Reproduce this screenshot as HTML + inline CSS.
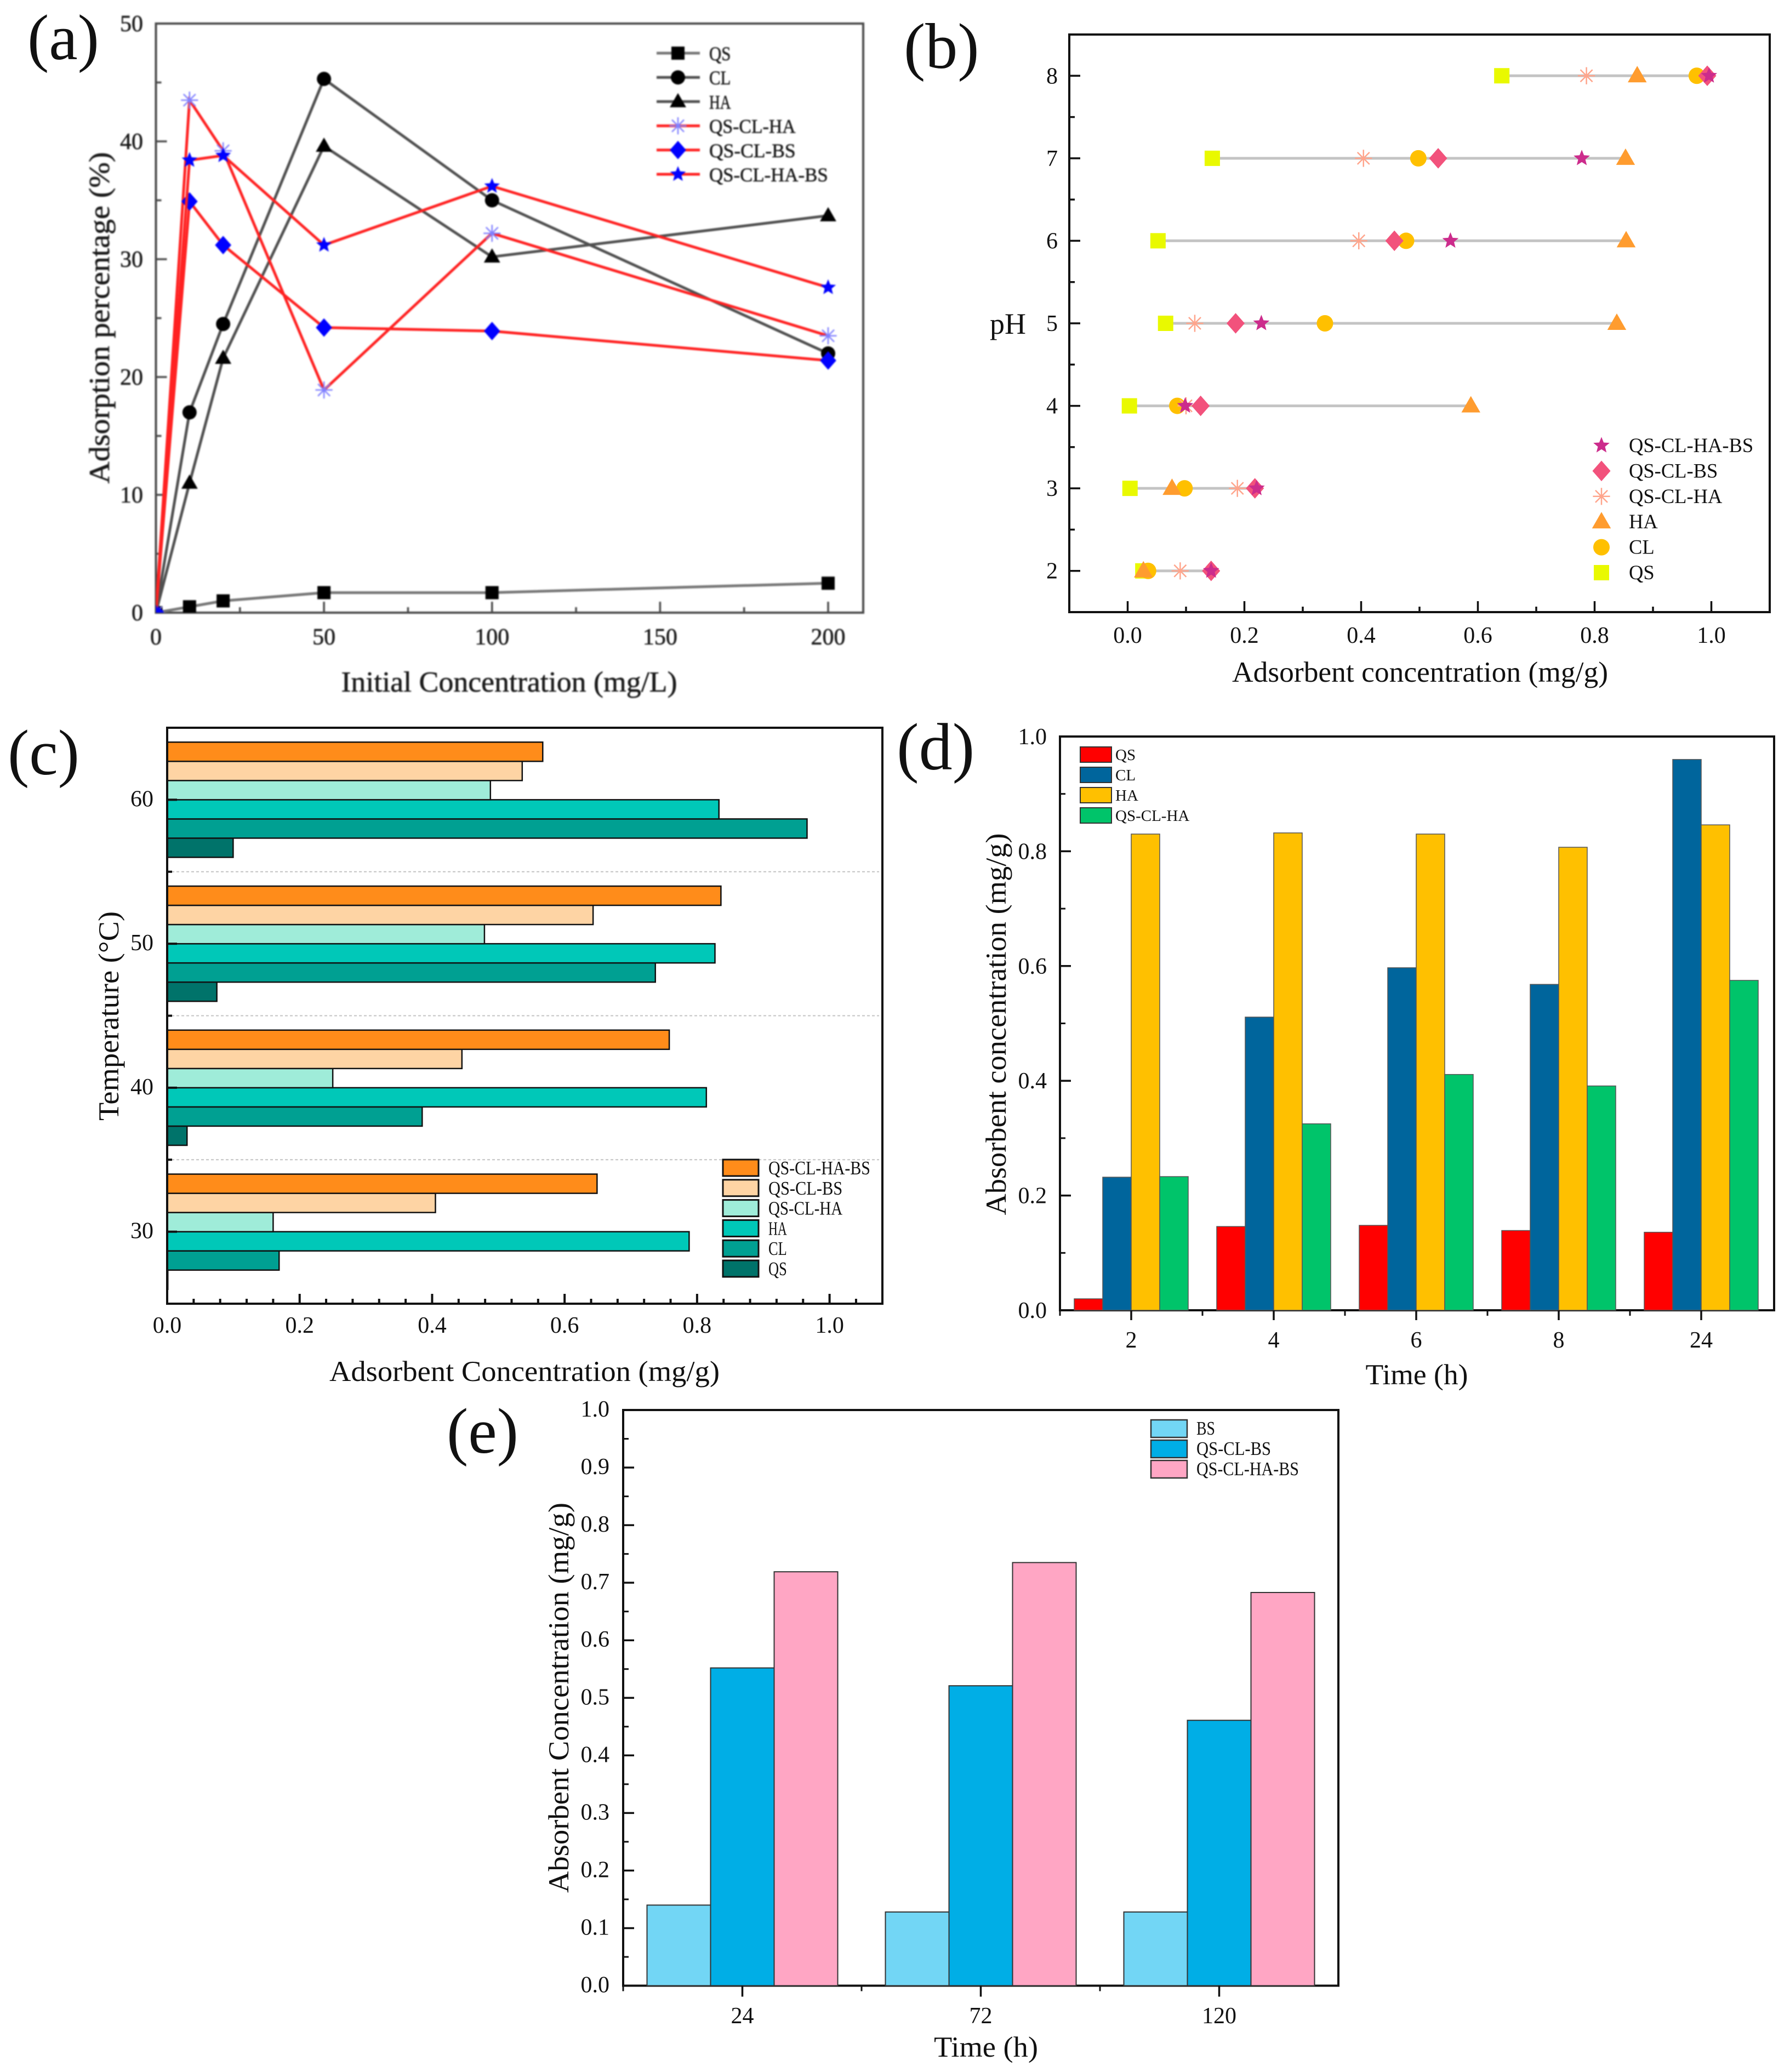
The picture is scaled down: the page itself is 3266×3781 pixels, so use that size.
<!DOCTYPE html>
<html lang="en">
<head>
<meta charset="utf-8">
<title>Adsorption charts</title>
<style>
html,body{margin:0;padding:0;background:#fff;}
svg{display:block;}
text{font-family:"Liberation Serif",serif;fill:#111;}
#panel-a-group{filter:blur(1.2px);}
#panel-a-group text{fill:#1a1a1a;stroke:#1a1a1a;stroke-width:0.6px;}
</style>
</head>
<body>
<svg id="root" xmlns="http://www.w3.org/2000/svg" width="3266" height="3781" viewBox="0 0 3266 3781">
  <defs>
    <clipPath id="a-plot-clip"><rect x="284.5" y="43" width="1290.5" height="1075"/></clipPath>
  </defs>
  <rect x="0" y="0" width="3266" height="3781" fill="#fff"/>

  <text x="50" y="108" font-size="118">(a)</text>
  <g id="panel-a-group">
    <text x="929" y="1262" font-size="53" text-anchor="middle" textLength="613" lengthAdjust="spacingAndGlyphs">Initial Concentration (mg/L)</text>
    <text transform="translate(199,580) rotate(-90)" font-size="53" text-anchor="middle" textLength="605" lengthAdjust="spacingAndGlyphs">Adsorption percentage (%)</text>
  </g>

  <g id="panel-b-group">
    <text x="1649" y="124" font-size="118">(b)</text>
    <text x="2591" y="1244" font-size="53" text-anchor="middle" textLength="686" lengthAdjust="spacingAndGlyphs">Adsorbent concentration (mg/g)</text>
    <text x="1806" y="609" font-size="54">pH</text>
  </g>

  <g id="panel-c-group">
    <text x="14" y="1413" font-size="118">(c)</text>
    <text x="957" y="2520" font-size="53" text-anchor="middle" textLength="712" lengthAdjust="spacingAndGlyphs">Adsorbent Concentration (mg/g)</text>
    <text transform="translate(216,1854) rotate(-90)" font-size="53" text-anchor="middle" textLength="382" lengthAdjust="spacingAndGlyphs">Temperature (°C)</text>
  </g>

  <g id="panel-d-group">
    <text x="1636" y="1404" font-size="122">(d)</text>
    <text x="2585" y="2526" font-size="53" text-anchor="middle" textLength="187" lengthAdjust="spacingAndGlyphs">Time (h)</text>
    <text transform="translate(1835,1869) rotate(-90)" font-size="53" text-anchor="middle" textLength="697" lengthAdjust="spacingAndGlyphs">Absorbent concentration (mg/g)</text>
  </g>

  <g id="panel-e-group">
    <text x="815" y="2651" font-size="118">(e)</text>
    <text x="1799" y="3753" font-size="53" text-anchor="middle" textLength="190" lengthAdjust="spacingAndGlyphs">Time (h)</text>
    <text transform="translate(1037,3098) rotate(-90)" font-size="53" text-anchor="middle" textLength="712" lengthAdjust="spacingAndGlyphs">Absorbent Concentration (mg/g)</text>
  </g>
</svg>

<script>
/* ---------- Panel (a) data ---------- */
const aConcentrations = [0, 10, 20, 50, 100, 200];
const aQS = [0, 0.5, 1.0, 1.7, 1.7, 2.5];
const aCL = [0, 17, 24.5, 45.3, 35, 22];
const aHA = [0, 11, 21.6, 39.6, 30.2, 33.7];
const aQSCLHA = [0, 43.5, 39.2, 18.9, 32.2, 23.5];
const aQSCLBS = [0, 34.9, 31.2, 24.2, 23.9, 21.4];
const aQSCLHABS = [0, 38.4, 38.8, 31.2, 36.2, 27.6];
const aXTicks = [0, 50, 100, 150, 200];
const aXMinor = [25, 75, 125, 175];
const aYTicks = [0, 10, 20, 30, 40, 50];
const aYMinor = [5, 15, 25, 35, 45];

/* ---------- Panel (b) data: index order follows bPH ---------- */
const bPH = [2, 3, 4, 5, 6, 7, 8];
const bQS = [0.026, 0.004, 0.003, 0.065, 0.052, 0.145, 0.641];
const bCL = [0.035, 0.0975, 0.085, 0.338, 0.477, 0.498, 0.975];
const bHA = [0.027, 0.076, 0.588, 0.838, 0.854, 0.853, 0.873];
const bQSCLHA = [0.09, 0.188, 0.1, 0.115, 0.396, 0.404, 0.786];
const bQSCLBS = [0.143, 0.218, 0.125, 0.185, 0.457, 0.532, 0.993];
const bQSCLHABS = [0.143, 0.221, 0.0985, 0.229, 0.553, 0.778, 0.996];
const bXTicks = [0, 0.2, 0.4, 0.6, 0.8, 1.0];
const bXMinor = [0.1, 0.3, 0.5, 0.7, 0.9];
const bYMinor = [2.5, 3.5, 4.5, 5.5, 6.5, 7.5];

/* ---------- Panel (c) data: index order follows cTemps ---------- */
const cTemps = [30, 40, 50, 60];
const cQS = [0.001, 0.030, 0.075, 0.0996];
const cCL = [0.169, 0.385, 0.737, 0.966];
const cHA = [0.788, 0.814, 0.827, 0.833];
const cQSCLHA = [0.160, 0.250, 0.479, 0.488];
const cQSCLBS = [0.405, 0.445, 0.643, 0.536];
const cQSCLHABS = [0.649, 0.758, 0.836, 0.567];
const cXTicks = [0, 0.2, 0.4, 0.6, 0.8, 1.0];
const cXMinor = [0.04, 0.08, 0.12, 0.16, 0.24, 0.28, 0.32, 0.36, 0.44, 0.48, 0.52, 0.56, 0.64, 0.68, 0.72, 0.76, 0.84, 0.88, 0.92, 0.96, 1.04];
const cYMinor = [35, 45, 55];

/* ---------- Panel (d) data ---------- */
const dTimes = ['2', '4', '6', '8', '24'];
const dQS = [0.02, 0.146, 0.148, 0.139, 0.136];
const dCL = [0.232, 0.511, 0.597, 0.568, 0.96];
const dHA = [0.83, 0.832, 0.83, 0.807, 0.846];
const dQSCLHA = [0.233, 0.325, 0.411, 0.391, 0.575];
const dYTicks = [0, 0.2, 0.4, 0.6, 0.8, 1.0];
const dYMinor = [0.1, 0.3, 0.5, 0.7, 0.9];

/* ---------- Panel (e) data ---------- */
const eTimes = ['24', '72', '120'];
const eBS = [0.14, 0.128, 0.128];
const eQSCLBS = [0.552, 0.521, 0.461];
const eQSCLHABS = [0.719, 0.735, 0.683];
const eYTicks = [0, 0.1, 0.2, 0.3, 0.4, 0.5, 0.6, 0.7, 0.8, 0.9, 1.0];
const eYMinor = [0.05, 0.15, 0.25, 0.35, 0.45, 0.55, 0.65, 0.75, 0.85, 0.95];

/* ---------- helpers ---------- */
const NS = 'http://www.w3.org/2000/svg';
function mk(parent, tag, attrs, text) {
  const e = document.createElementNS(NS, tag);
  for (const k in attrs) e.setAttribute(k, attrs[k]);
  if (text !== undefined) e.textContent = text;
  parent.appendChild(e);
  return e;
}
function linear(d0, d1, r0, r1) {
  return function (v) { return r0 + (v - d0) / (d1 - d0) * (r1 - r0); };
}
function tick(g, x1, y1, x2, y2, w, color) {
  const t = mk(g, 'line', {x1: x1, y1: y1, x2: x2, y2: y2, stroke: color, 'stroke-width': w});
  
  
}
function tickLabel(g, x, y, str, anchor) {
  const t = mk(g, 'text', {x: x, y: y, 'font-size': 42, 'text-anchor': anchor}, str);
  
  
}
function legendText(g, x, y, str, size, charW) {
  const t = mk(g, 'text', {x: x, y: y, 'font-size': size, textLength: str.length * charW, lengthAdjust: 'spacingAndGlyphs'}, str);
  
  
}
function frame(g, x, y, w, h, color, sw) {
  const r = mk(g, 'rect', {x: x, y: y, width: w, height: h, fill: 'none', stroke: color, 'stroke-width': sw});
  
  
}
function marker(g, kind, cx, cy, s, fill) {
  let d = '';
  let attrs = {fill: fill};
  if (kind === 'square') {
    d = 'M' + (cx - s) + ' ' + (cy - s) + 'h' + (2 * s) + 'v' + (2 * s) + 'h' + (-2 * s) + 'z';
  } else if (kind === 'circle') {
    d = 'M' + (cx - s) + ' ' + cy + 'a' + s + ' ' + s + ' 0 1 0 ' + (2 * s) + ' 0a' + s + ' ' + s + ' 0 1 0 ' + (-2 * s) + ' 0z';
  } else if (kind === 'triangle') {
    d = 'M' + cx + ' ' + (cy - s * 1.2) + 'L' + (cx + s * 1.15) + ' ' + (cy + s * 0.8) + 'L' + (cx - s * 1.15) + ' ' + (cy + s * 0.8) + 'z';
  } else if (kind === 'diamond') {
    d = 'M' + cx + ' ' + (cy - s * 1.25) + 'L' + (cx + s * 1.1) + ' ' + cy + 'L' + cx + ' ' + (cy + s * 1.25) + 'L' + (cx - s * 1.1) + ' ' + cy + 'z';
  } else if (kind === 'star') {
    for (let i = 0; i < 10; i++) {
      const r = i % 2 === 0 ? s * 1.25 : s * 0.55;
      const a = -Math.PI / 2 + i * Math.PI / 5;
      d += (i === 0 ? 'M' : 'L') + (cx + r * Math.cos(a)) + ' ' + (cy + r * Math.sin(a));
    }
    d += 'z';
  } else if (kind === 'asterisk') {
    for (let i = 0; i < 4; i++) {
      const a = i * Math.PI / 4;
      const dx = s * 1.2 * Math.cos(a), dy = s * 1.2 * Math.sin(a);
      d += 'M' + (cx - dx) + ' ' + (cy - dy) + 'L' + (cx + dx) + ' ' + (cy + dy);
    }
    attrs = {fill: 'none', stroke: fill, 'stroke-width': 2.5};
  }
  attrs.d = d;
  return mk(g, 'path', attrs);
}

/* ---------- Panel (a) ---------- */
(function () {
  const g = document.getElementById('panel-a-group');
  const L = 284.5, R = 1575, T = 43, B = 1118;
  const x = linear(0, 200, L, 1511);
  const y = linear(0, 50, B, T);
  const axis = '#4a4a4a';
  frame(g, L, T, R - L, B - T, axis, 4);
  aXTicks.forEach(function (v) {
    tick(g, x(v), B, x(v), B - 20, 3.5, axis);
    tickLabel(g, x(v), 1176, String(v), 'middle');
  });
  aXMinor.forEach(function (v) { tick(g, x(v), B, x(v), B - 10, 3.5, axis); });
  aYTicks.forEach(function (v) {
    tick(g, L, y(v), L + 20, y(v), 3.5, axis);
    tickLabel(g, 261, y(v) + 14, String(v), 'end');
  });
  aYMinor.forEach(function (v) { tick(g, L, y(v), L + 10, y(v), 3.5, axis); });

  const series = [
    {name: 'QS', values: aQS, line: '#777', kind: 'square', fill: '#000', s: 12},
    {name: 'CL', values: aCL, line: '#505050', kind: 'circle', fill: '#000', s: 13},
    {name: 'HA', values: aHA, line: '#505050', kind: 'triangle', fill: '#000', s: 13},
    {name: 'QS-CL-HA', values: aQSCLHA, line: '#ff2222', kind: 'asterisk', fill: '#8080ff', s: 13},
    {name: 'QS-CL-BS', values: aQSCLBS, line: '#ff2222', kind: 'diamond', fill: '#0000ff', s: 13.5},
    {name: 'QS-CL-HA-BS', values: aQSCLHABS, line: '#ff2222', kind: 'star', fill: '#0000ff', s: 12}
  ];
  const plot = mk(g, 'g', {'clip-path': 'url(#a-plot-clip)'});
  
  
  const legendY = linear(0, 5, 97, 318);
  series.forEach(function (sr, si) {
    const pts = sr.values.map(function (v, i) { return x(aConcentrations[i]) + ',' + y(v); }).join(' ');
    const pl = mk(plot, 'polyline', {points: pts, fill: 'none', stroke: sr.line, 'stroke-width': 5});
    
    
    sr.values.forEach(function (v, i) {
      const m = marker(plot, sr.kind, x(aConcentrations[i]), y(v), sr.s, sr.fill);
      
      
    });
    const ly = legendY(si);
    const ll = mk(g, 'line', {x1: 1198, y1: ly, x2: 1277, y2: ly, stroke: sr.line, 'stroke-width': 5});
    
    
    const lm = marker(g, sr.kind, 1237, ly, sr.s, sr.fill);
    
    
    legendText(g, 1294, ly + 13, sr.name, 36, 19.7);
  });
})();

/* ---------- Panel (b) ---------- */
(function () {
  const g = document.getElementById('panel-b-group');
  const L = 1951, R = 3229, T = 63, B = 1117;
  const x = linear(-0.1, 1.1, L, R);
  const y = linear(1.5, 8.5, B, T);
  frame(g, L, T, R - L, B - T, '#111', 4);
  bXTicks.forEach(function (v) {
    tick(g, x(v), B, x(v), B - 20, 3.5, '#111');
    tickLabel(g, x(v), 1173, v.toFixed(1), 'middle');
  });
  bXMinor.forEach(function (v) { tick(g, x(v), B, x(v), B - 10, 3.5, '#111'); });
  bPH.forEach(function (v) {
    tick(g, L, y(v), L + 20, y(v), 3.5, '#111');
    tickLabel(g, 1930, y(v) + 14, String(v), 'end');
  });
  bYMinor.forEach(function (v) { tick(g, L, y(v), L + 10, y(v), 3.5, '#111'); });

  const series = [
    {name: 'QS', values: bQS, kind: 'square', fill: '#e9f900', s: 14},
    {name: 'CL', values: bCL, kind: 'circle', fill: '#ffc000', s: 15},
    {name: 'HA', values: bHA, kind: 'triangle', fill: '#ff9c2f', s: 15},
    {name: 'QS-CL-HA', values: bQSCLHA, kind: 'asterisk', fill: '#ffa58c', s: 13},
    {name: 'QS-CL-BS', values: bQSCLBS, kind: 'diamond', fill: '#f2527c', s: 15},
    {name: 'QS-CL-HA-BS', values: bQSCLHABS, kind: 'star', fill: '#cc2c8c', s: 12.5}
  ];
  bPH.forEach(function (p, i) {
    const vals = series.map(function (sr) { return sr.values[i]; });
    const conn = mk(g, 'line', {x1: x(Math.min.apply(null, vals)), y1: y(p), x2: x(Math.max.apply(null, vals)), y2: y(p), stroke: '#c4c4c4', 'stroke-width': 5});
    
    
  });
  series.forEach(function (sr) {
    sr.values.forEach(function (v, i) {
      const m = marker(g, sr.kind, x(v), y(bPH[i]), sr.s, sr.fill);
      
      
    });
  });
  const legendY = linear(0, 5, 813, 1045);
  series.slice().reverse().forEach(function (sr, si) {
    const ly = legendY(si);
    const lm = marker(g, sr.kind, 2922, ly, sr.s, sr.fill);
    
    
    const lt = mk(g, 'text', {x: 2972, y: ly + 12, 'font-size': 36.5}, sr.name);
    
    
  });
})();

/* ---------- Panel (c) ---------- */
(function () {
  const g = document.getElementById('panel-c-group');
  const L = 305, R = 1610, T = 1328, B = 2379;
  const x = linear(0, 1, L, 1513.6);
  const y = linear(25, 65, B, T);
  const series = [
    {name: 'QS', values: cQS, fill: '#00736a'},
    {name: 'CL', values: cCL, fill: '#00a092'},
    {name: 'HA', values: cHA, fill: '#00c8b8'},
    {name: 'QS-CL-HA', values: cQSCLHA, fill: '#9fecd9'},
    {name: 'QS-CL-BS', values: cQSCLBS, fill: '#fed4a4'},
    {name: 'QS-CL-HA-BS', values: cQSCLHABS, fill: '#ff8c1a'}
  ];
  cYMinor.forEach(function (v) {
    const gl = mk(g, 'line', {x1: L + 8, y1: y(v), x2: R - 6, y2: y(v), stroke: '#c4c4c4', 'stroke-width': 2, 'stroke-dasharray': '5 4'});
    
    
    tick(g, L, y(v), L + 9, y(v), 4, '#111');
  });
  const band = 8 / series.length;
  cTemps.forEach(function (t, ti) {
    series.forEach(function (sr, si) {
      const top = y(t - 4 + band * (si + 1));
      const bottom = y(t - 4 + band * si);
      const b = mk(g, 'rect', {x: x(0), y: top, width: x(sr.values[ti]) - x(0), height: bottom - top, fill: sr.fill, stroke: '#111', 'stroke-width': 2.5});
      
      
    });
    tick(g, L, y(t), L + 18, y(t), 4, '#111');
    tickLabel(g, 280, y(t) + 12, String(t), 'end');
  });
  frame(g, L, T, R - L, B - T, '#111', 4);
  cXTicks.forEach(function (v) {
    tick(g, x(v), B, x(v), B - 18, 4, '#111');
    tickLabel(g, x(v), 2432, v.toFixed(1), 'middle');
  });
  cXMinor.forEach(function (v) { tick(g, x(v), B, x(v), B - 9, 4, '#111'); });
  const legendY = linear(0, 5, 2131, 2315);
  series.slice().reverse().forEach(function (sr, si) {
    const ly = legendY(si);
    const s = mk(g, 'rect', {x: 1319, y: ly - 15, width: 65, height: 30, fill: sr.fill, stroke: '#111', 'stroke-width': 3});
    
    
    legendText(g, 1402, ly + 12, sr.name, 35, 16.9);
  });
})();

/* ---------- Panel (d) ---------- */
(function () {
  const g = document.getElementById('panel-d-group');
  const L = 1934, R = 3237, T = 1344, B = 2391;
  const y = linear(0, 1, B, T);
  const bandW = (R - 3 - L) / dTimes.length;
  const barW = bandW * 0.2;
  const series = [
    {name: 'QS', values: dQS, fill: '#ff0000'},
    {name: 'CL', values: dCL, fill: '#00659c'},
    {name: 'HA', values: dHA, fill: '#ffc000'},
    {name: 'QS-CL-HA', values: dQSCLHA, fill: '#00c46a'}
  ];
  frame(g, L, T, R - L, B - T, '#111', 4);
  dTimes.forEach(function (t, ti) {
    const cx = L + bandW * (ti + 0.5);
    series.forEach(function (sr, si) {
      const bx = cx + (si - series.length / 2) * barW;
      const b = mk(g, 'rect', {x: bx, y: y(sr.values[ti]), width: barW, height: B - y(sr.values[ti]), fill: sr.fill, stroke: '#555', 'stroke-width': 1.5});
      
      
    });
    tick(g, cx, B, cx, B + 18, 3.5, '#111');
    tick(g, L + bandW * ti, B, L + bandW * ti, B + 10, 3, '#111');
    tickLabel(g, cx, 2459, t, 'middle');
  });
  dYTicks.forEach(function (v) {
    tick(g, L, y(v), L + 20, y(v), 3.5, '#111');
    tickLabel(g, 1910, y(v) + 14, v.toFixed(1), 'end');
  });
  dYMinor.forEach(function (v) { tick(g, L, y(v), L + 10, y(v), 3, '#111'); });
  const legendY = linear(0, 3, 1377, 1488);
  series.forEach(function (sr, si) {
    const ly = legendY(si);
    const s = mk(g, 'rect', {x: 1971, y: ly - 14, width: 57, height: 28, fill: sr.fill, stroke: '#333', 'stroke-width': 2});
    
    
    const lt = mk(g, 'text', {x: 2035, y: ly + 10, 'font-size': 29}, sr.name);
    
    
  });
})();

/* ---------- Panel (e) ---------- */
(function () {
  const g = document.getElementById('panel-e-group');
  const L = 1137, R = 2442, T = 2573, B = 3623.5;
  const y = linear(0, 1, B, T);
  const bandW = (R - L) / eTimes.length;
  const series = [
    {name: 'BS', values: eBS, fill: '#72d6f5'},
    {name: 'QS-CL-BS', values: eQSCLBS, fill: '#00aee6'},
    {name: 'QS-CL-HA-BS', values: eQSCLHABS, fill: '#ffa6c4'}
  ];
  const barW = bandW * 0.8 / series.length;
  frame(g, L, T, R - L, B - T, '#111', 4);
  eTimes.forEach(function (t, ti) {
    const cx = L + bandW * (ti + 0.5);
    series.forEach(function (sr, si) {
      const bx = cx + (si - series.length / 2) * barW;
      const b = mk(g, 'rect', {x: bx, y: y(sr.values[ti]), width: barW, height: B - y(sr.values[ti]), fill: sr.fill, stroke: '#333', 'stroke-width': 2});
      
      
    });
    tick(g, cx, B, cx, B + 20, 3.5, '#111');
    tick(g, L + bandW * ti, B, L + bandW * ti, B + 10, 3, '#111');
    tickLabel(g, cx, 3692, t, 'middle');
  });
  eYTicks.forEach(function (v) {
    tick(g, L, y(v), L + 20, y(v), 3.5, '#111');
    tickLabel(g, 1112, y(v) + 12, v.toFixed(1), 'end');
  });
  eYMinor.forEach(function (v) { tick(g, L, y(v), L + 10, y(v), 3, '#111'); });
  const legendY = linear(0, 2, 2607, 2681);
  series.forEach(function (sr, si) {
    const ly = legendY(si);
    const s = mk(g, 'rect', {x: 2100, y: ly - 16, width: 66, height: 32, fill: sr.fill, stroke: '#333', 'stroke-width': 2.5});
    
    
    legendText(g, 2183, ly + 11, sr.name, 35, 17);
  });
})();
</script>
</body>
</html>
